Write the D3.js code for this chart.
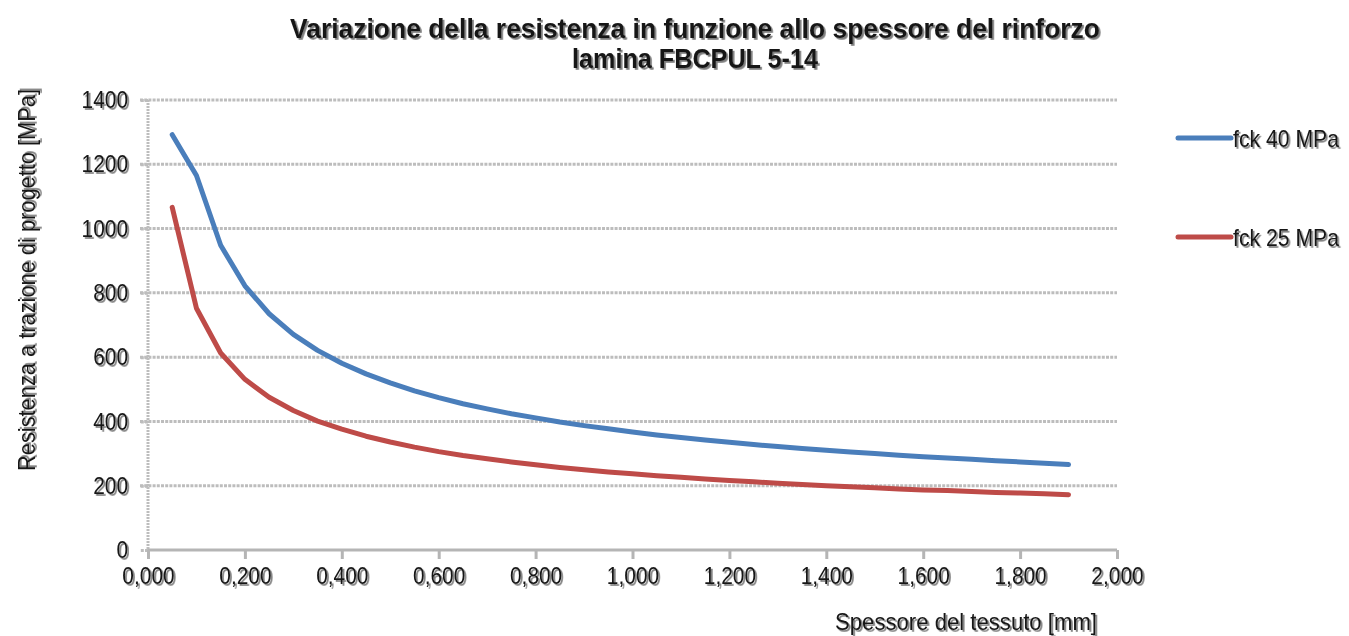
<!DOCTYPE html>
<html>
<head>
<meta charset="utf-8">
<script src="https://cdn.jsdelivr.net/npm/d3@7"></script>
<style>
  html, body { margin: 0; padding: 0; background: #fff; }
  svg { display: block; font-family: "Liberation Sans", Arial, sans-serif; }
</style>
</head>
<body>
<svg id="chart" width="1349" height="636"></svg>
<script>
// Spessore del tessuto [mm]
const thickness = [0.05, 0.10, 0.15, 0.20, 0.25, 0.30, 0.35, 0.40, 0.45, 0.50,
  0.55, 0.60, 0.65, 0.70, 0.75, 0.80, 0.85, 0.90, 0.95, 1.00,
  1.05, 1.10, 1.15, 1.20, 1.25, 1.30, 1.35, 1.40, 1.45, 1.50,
  1.55, 1.60, 1.65, 1.70, 1.75, 1.80, 1.85, 1.90];

// Resistenza a trazione di progetto [MPa], fck 40 MPa
const fck40 = [1292, 1165, 948, 822, 735, 671, 621, 581, 548, 520,
  495, 474, 455, 439, 424, 411, 398, 387, 377, 367,
  358, 350, 342, 335, 328, 322, 316, 310, 305, 300,
  295, 290, 286, 282, 278, 274, 270, 266];

// Resistenza a trazione di progetto [MPa], fck 25 MPa
const fck25 = [1066, 752, 613, 531, 475, 434, 401, 376, 354, 336,
  320, 306, 294, 284, 274, 265, 257, 250, 243, 237,
  231, 226, 221, 216, 212, 208, 204, 200, 197, 194,
  190, 187, 185, 182, 179, 177, 175, 172];

const seriesNames = ["fck 40 MPa", "fck 25 MPa"];
const seriesColors = ["#4a7ebb", "#be4b48"];
const xTicks = [0, 0.2, 0.4, 0.6, 0.8, 1.0, 1.2, 1.4, 1.6, 1.8, 2.0];
const yTicks = [0, 200, 400, 600, 800, 1000, 1200, 1400];

const titleLines = ["Variazione della resistenza in funzione allo spessore del rinforzo",
                    "lamina FBCPUL 5-14"];
const xTitle = "Spessore del tessuto [mm]";
const yTitle = "Resistenza a trazione di progetto [MPa]";

const svg = d3.select("#chart");
const textColor = "#161616";

// grey offset shadow behind every text
const defs = svg.append("defs");
defs.append("filter").attr("id", "shadow")
  .attr("x", "-5%").attr("y", "-20%").attr("width", "110%").attr("height", "150%")
  .append("feDropShadow")
  .attr("dx", 1.8).attr("dy", 1.8).attr("stdDeviation", 0.7)
  .attr("flood-color", "#666").attr("flood-opacity", 0.85);

const x = d3.scaleLinear().domain([0, 2]).range([148, 1117]);
const y = d3.scaleLinear().domain([0, 1400]).range([550, 100]);

const gridColor = "#bdbdbd";

// narrow, tall lettering: draw at a larger size, squeeze back to a given width ratio
function narrow(sel, ratio) {
  sel.each(function () {
    const w = this.getComputedTextLength();
    d3.select(this).attr("textLength", w * ratio).attr("lengthAdjust", "spacingAndGlyphs");
  });
}

// horizontal gridlines
svg.append("g").selectAll("line")
  .data(yTicks.filter(d => d > 0))
  .join("line")
  .attr("x1", x(0) - 8).attr("x2", x(2))
  .attr("y1", d => y(d)).attr("y2", d => y(d))
  .attr("stroke", gridColor).attr("stroke-width", 3)
  .attr("stroke-dasharray", "3,1.2");

// y axis
const yAxis = svg.append("g")
  .attr("transform", `translate(${x(0)},0)`)
  .call(d3.axisLeft(y).tickValues(yTicks).tickSize(8).tickPadding(12)
    .tickFormat(d3.format("d")));
yAxis.select(".domain").attr("stroke", gridColor).attr("stroke-width", 3)
  .attr("stroke-dasharray", "2,1").attr("d", `M0,${y(1400)}V${y(0)}`);
yAxis.selectAll(".tick line").attr("stroke", gridColor).attr("stroke-width", 3)
  .attr("stroke-dasharray", "3,1.2");
yAxis.selectAll(".tick text")
  .attr("font-size", 24).attr("fill", textColor)
  .attr("font-family", "'Liberation Sans', Arial, sans-serif")
  .attr("filter", "url(#shadow)")
  .call(narrow, 0.87);

// x axis
const xAxis = svg.append("g")
  .attr("transform", `translate(0,${y(0)})`)
  .call(d3.axisBottom(x).tickValues(xTicks).tickSize(9).tickPadding(8)
    .tickFormat(d => d3.format(".3f")(d).replace(".", ",")));
xAxis.select(".domain").attr("stroke", "#b5b5b5").attr("stroke-width", 3)
  .attr("d", `M${x(0)},0H${x(2)}`);
xAxis.selectAll(".tick line").attr("stroke", "#b5b5b5").attr("stroke-width", 3);
xAxis.selectAll(".tick text")
  .attr("font-size", 24).attr("fill", textColor)
  .attr("font-family", "'Liberation Sans', Arial, sans-serif")
  .attr("filter", "url(#shadow)")
  .call(narrow, 0.87);

// series lines
const line = d3.line()
  .x(d => x(d[0]))
  .y(d => y(d[1]));

[fck40, fck25].forEach((vals, i) => {
  const pts = thickness.map((t, k) => [t, vals[k]]);
  svg.append("path")
    .datum(pts)
    .attr("fill", "none")
    .attr("stroke", seriesColors[i])
    .attr("stroke-width", 5)
    .attr("stroke-linejoin", "round")
    .attr("stroke-linecap", "round")
    .attr("d", line);
});

// legend: swatch line + narrow label (horizontal squeeze via transform)
const legendY = [138, 237];
seriesNames.forEach((name, i) => {
  const g = svg.append("g").attr("transform", `translate(1176,${legendY[i]})`);
  g.append("line").attr("x1", 2).attr("x2", 55)
    .attr("stroke", seriesColors[i]).attr("stroke-width", 5)
    .attr("stroke-linecap", "round");
  const label = g.append("g").attr("transform", "translate(57,0)")
    .append("text").attr("dy", "0.36em")
    .attr("font-size", 24).attr("fill", textColor)
    .attr("filter", "url(#shadow)")
    .text(name);
  const w = label.node().getComputedTextLength();
  label.attr("transform", `scale(${106 / w},1)`);
});

// title
const titleWidths = [810, 246];
titleLines.forEach((t, i) => {
  svg.append("text")
    .attr("x", 695).attr("y", 38 + i * 30)
    .attr("text-anchor", "middle")
    .attr("font-size", 28).attr("font-weight", "bold").attr("fill", textColor)
    .attr("textLength", titleWidths[i]).attr("lengthAdjust", "spacingAndGlyphs")
    .attr("filter", "url(#shadow)")
    .text(t);
});

// axis titles
svg.append("text")
  .attr("x", 966).attr("y", 630)
  .attr("text-anchor", "middle")
  .attr("font-size", 24).attr("fill", textColor)
  .attr("textLength", 262).attr("lengthAdjust", "spacingAndGlyphs")
  .attr("filter", "url(#shadow)")
  .text(xTitle);

svg.append("text")
  .attr("transform", "translate(35,280) rotate(-90)")
  .attr("text-anchor", "middle")
  .attr("font-size", 24).attr("fill", textColor)
  .attr("textLength", 382).attr("lengthAdjust", "spacingAndGlyphs")
  .attr("filter", "url(#shadow)")
  .text(yTitle);
</script>
</body>
</html>
